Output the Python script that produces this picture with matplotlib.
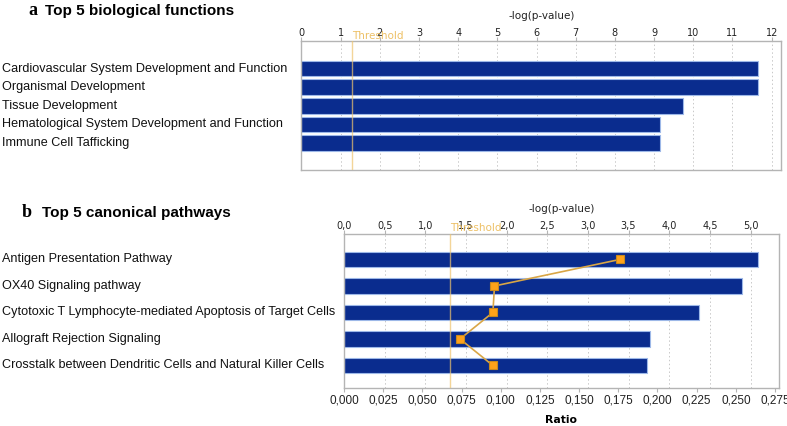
import matplotlib
matplotlib.use("Agg")
import matplotlib.pyplot as plt
import matplotlib.transforms as mtransforms
from matplotlib.ticker import FuncFormatter, MultipleLocator

# panel a data
functions = ["Cardiovascular System Development and Function",
             "Organismal Development",
             "Tissue Development",
             "Hematological System Development and Function",
             "Immune Cell Tafficking"]
func_logp = [11.64, 11.64, 9.73, 9.15, 9.15]

# panel b data
pathways = ["Antigen Presentation Pathway",
            "OX40 Signaling pathway",
            "Cytotoxic T Lymphocyte-mediated Apoptosis of Target Cells",
            "Allograft Rejection Signaling",
            "Crosstalk between Dendritic Cells and Natural Killer Cells"]
path_logp = [5.09, 4.90, 4.37, 3.76, 3.73]
path_ratio = [0.176, 0.096, 0.095, 0.074, 0.095]

threshold = 1.3

bar_col = "#0a2c8e"
bar_edge = "#9db8e8"
spine_col = "#b4b4b4"
thr_col = "#eec46e"
lab_font = "Liberation Sans"
tick_font = "DejaVu Sans"

fig = plt.figure(figsize=(7.87, 4.26), dpi=100)


def comma(fmt):
    return FuncFormatter(lambda v, p: (fmt % v).replace(".", ","))


def style_axes(ax):
    for s in ax.spines.values():
        s.set_color(spine_col)
        s.set_linewidth(1.0)
    ax.set_yticks([])
    ax.xaxis.set_ticks_position("top")
    ax.xaxis.set_label_position("top")
    ax.tick_params(axis="x", direction="out", length=3, width=0.8, color=spine_col,
                   pad=-0.5, labelsize=7, labelcolor="#222222")
    for t in ax.get_xticklabels():
        t.set_fontfamily(tick_font)
    ax.grid(axis="x", linestyle=(0, (1.5, 2.5)), color="#c8c8c8", linewidth=0.7)
    ax.set_axisbelow(True)


# ---------------- panel a ----------------
ax1 = fig.add_axes([0.3829, 0.6009, 0.6101, 0.3028])
ypos = list(range(len(functions)))
ax1.barh(ypos, func_logp, height=0.83, color=bar_col, edgecolor=bar_edge, linewidth=0.8, zorder=2)
ax1.set_xlim(0, 12.25)
ax1.set_ylim(4 + 1.45, -1.48)
ax1.xaxis.set_major_locator(MultipleLocator(1))
style_axes(ax1)
ax1.set_xlabel("-log(p-value)", fontsize=7.5, family=tick_font, labelpad=6, color="#222222")
ax1.axvline(threshold, color=thr_col, linewidth=1.0, alpha=0.7, zorder=3)
ax1.text(threshold, 1.04, "Threshold", transform=ax1.get_xaxis_transform(),
         ha="left", va="center", fontsize=7.5, family=tick_font, color="#eab54a", alpha=0.85)
tr1 = mtransforms.blended_transform_factory(fig.transFigure, ax1.transData)
for y, name in zip(ypos, functions):
    ax1.text(0.003, y, name, transform=tr1, ha="left", va="center",
             fontsize=9.1, family=lab_font, color="#111111")

fig.text(0.036, 0.9648, "a", fontsize=13, family="Liberation Serif", weight="bold", va="baseline")
fig.text(0.057, 0.9648, "Top 5 biological functions", fontsize=11, family=lab_font,
         weight="bold", va="baseline")

# ---------------- panel b ----------------
ax2 = fig.add_axes([0.4371, 0.0885, 0.5527, 0.3622])
ax3 = ax2.twiny()
ax2.barh(ypos, path_logp, height=0.59, color=bar_col, edgecolor=bar_edge, linewidth=0.8, zorder=2)
ax2.set_xlim(0, 5.35)
ax2.set_ylim(4 + 0.86, -0.96)
ax2.xaxis.set_major_locator(MultipleLocator(0.5))
ax2.xaxis.set_major_formatter(comma("%.1f"))
style_axes(ax2)
ax2.set_xlabel("-log(p-value)", fontsize=7.5, family=tick_font, labelpad=6, color="#222222")
ax2.axvline(threshold, color=thr_col, linewidth=1.0, alpha=0.7, zorder=3)
ax2.text(threshold, 1.037, "Threshold", transform=ax2.get_xaxis_transform(),
         ha="left", va="center", fontsize=7.5, family=tick_font, color="#eab54a", alpha=0.85)

ax3.set_xlim(0, 0.2775)
ax3.set_ylim(ax2.get_ylim())
ax3.xaxis.set_ticks_position("bottom")
ax3.xaxis.set_label_position("bottom")
ax3.xaxis.set_major_locator(MultipleLocator(0.025))
ax3.xaxis.set_major_formatter(comma("%.3f"))
ax3.tick_params(axis="x", direction="out", length=3, width=0.8, color=spine_col,
                pad=1.5, labelsize=8.5, labelcolor="#222222")
for t in ax3.get_xticklabels():
    t.set_fontfamily(lab_font)
for s in ax3.spines.values():
    s.set_visible(False)
ax3.set_yticks([])
ax3.set_xlabel("Ratio", fontsize=7.8, family=tick_font, weight="bold", labelpad=6)
ax3.plot(path_ratio, ypos, color="#d9a646", linewidth=1.2, marker="s", markersize=6,
         markerfacecolor="#ffa31a", markeredgecolor="#c98a1e", markeredgewidth=0.8, zorder=4)

tr2 = mtransforms.blended_transform_factory(fig.transFigure, ax2.transData)
for y, name in zip(ypos, pathways):
    ax2.text(0.003, y, name, transform=tr2, ha="left", va="center",
             fontsize=9.1, family=lab_font, color="#111111")

fig.text(0.027, 0.4906, "b", fontsize=13, family="Liberation Serif", weight="bold", va="baseline")
fig.text(0.053, 0.4906, "Top 5 canonical pathways", fontsize=11, family=lab_font,
         weight="bold", va="baseline")

fig.savefig("out.png", dpi=100)
